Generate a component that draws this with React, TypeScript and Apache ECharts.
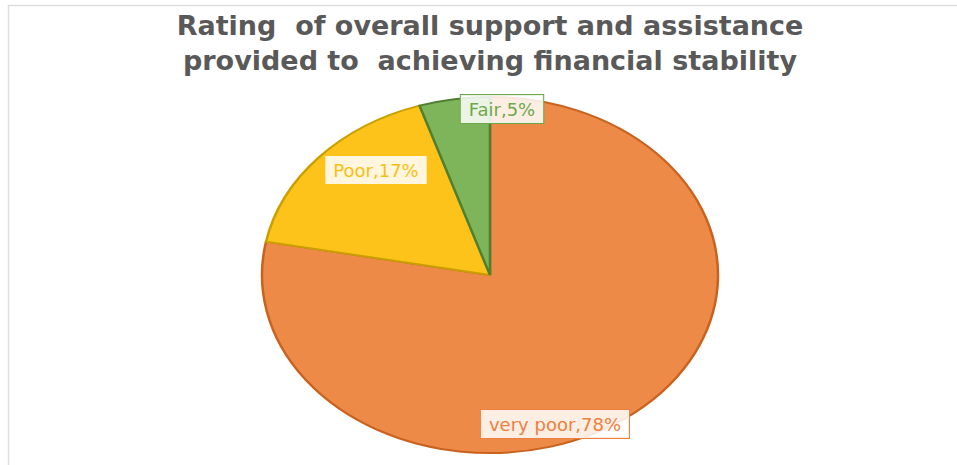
import React, { useEffect, useRef } from "react";
import * as echarts from "echarts";

const titleLines = ["Rating  of overall support and assistance", "provided to  achieving financial stability"];
const categories = ["very poor", "Poor", "Fair"];
const values = [78, 17, 5];
const fillColors = ["#ED8A47", "#FEC31B", "#7EB55A"];
const strokeColors = ["#C8621E", "#C9A000", "#4F7F31"];
const labelColors = ["#EC8040", "#F9BE14", "#6EA84A"];

// label placement (layout, not data): offset from pie centre
const labelOffsets = [
  [65, 149],
  [-114, -105],
  [12, -166],
];

export default function App() {
  const ref = useRef<HTMLDivElement>(null);
  useEffect(() => {
    if (!ref.current) return;
    const chart = echarts.init(ref.current, null, { renderer: "svg" });
    const total = values.reduce((a, b) => a + b, 0);
    const font = "'DejaVu Sans', 'Noto Sans', sans-serif";
    chart.setOption({
      animation: false,
      backgroundColor: "#ffffff",
      title: {
        text: titleLines.join("\n"),
        left: 485,
        textAlign: "center",
        top: 3,
        textStyle: {
          fontFamily: font,
          fontSize: 27,
          fontWeight: "bold",
          color: "#595959",
          lineHeight: 35,
        },
      },
      graphic: [
        {
          type: "rect",
          shape: { x: 8.5, y: 5.5, width: 1200, height: 1000 },
          style: { fill: "none", stroke: "#dedede", lineWidth: 1.5 },
          silent: true,
          z: -10,
        },
      ],
      series: [
        {
          type: "custom",
          coordinateSystem: "none",
          data: values.map((v, i) => ({ name: categories[i], value: [v] })),
          renderItem: (params: any, api: any) => {
            const i = params.dataIndex;
            const v = api.value(0);
            let before = 0;
            for (let k = 0; k < i; k++) before += values[k];
            const cx = 490;
            const cy = 275;
            const rx = 228;
            const ry = 178;
            const start = -Math.PI / 2 + (before / total) * Math.PI * 2;
            const end = -Math.PI / 2 + ((before + v) / total) * Math.PI * 2;
            const pct = Math.round((v / total) * 100);
            return {
              type: "group",
              children: [
                {
                  type: "group",
                  x: cx,
                  y: cy,
                  scaleY: ry / rx,
                  children: [
                    {
                      type: "sector",
                      shape: { cx: 0, cy: 0, r: rx, r0: 0, startAngle: start, endAngle: end, clockwise: true },
                      style: {
                        fill: fillColors[i],
                        stroke: strokeColors[i],
                        lineWidth: 2.5,
                        strokeNoScale: true,
                      },
                    },
                  ],
                },
                {
                  type: "text",
                  x: cx + labelOffsets[i][0],
                  y: cy + labelOffsets[i][1],
                  z2: 10,
                  style: {
                    text: categories[i] + "," + pct + "%",
                    fontFamily: font,
                    fontSize: 18,
                    fill: labelColors[i],
                    align: "center",
                    verticalAlign: "middle",
                    backgroundColor: "rgba(255,255,255,0.85)",
                    borderColor: i === 1 ? "rgba(254,195,27,0.35)" : labelColors[i],
                    borderWidth: 1,
                    padding: [5, 8, 5, 8],
                  },
                },
              ],
            };
          },
        },
      ],
    });
    return () => chart.dispose();
  }, []);
  return (
    <div
      ref={ref}
      style={{ position: "absolute", left: 0, top: 0, width: 957, height: 465 }}
    />
  );
}
